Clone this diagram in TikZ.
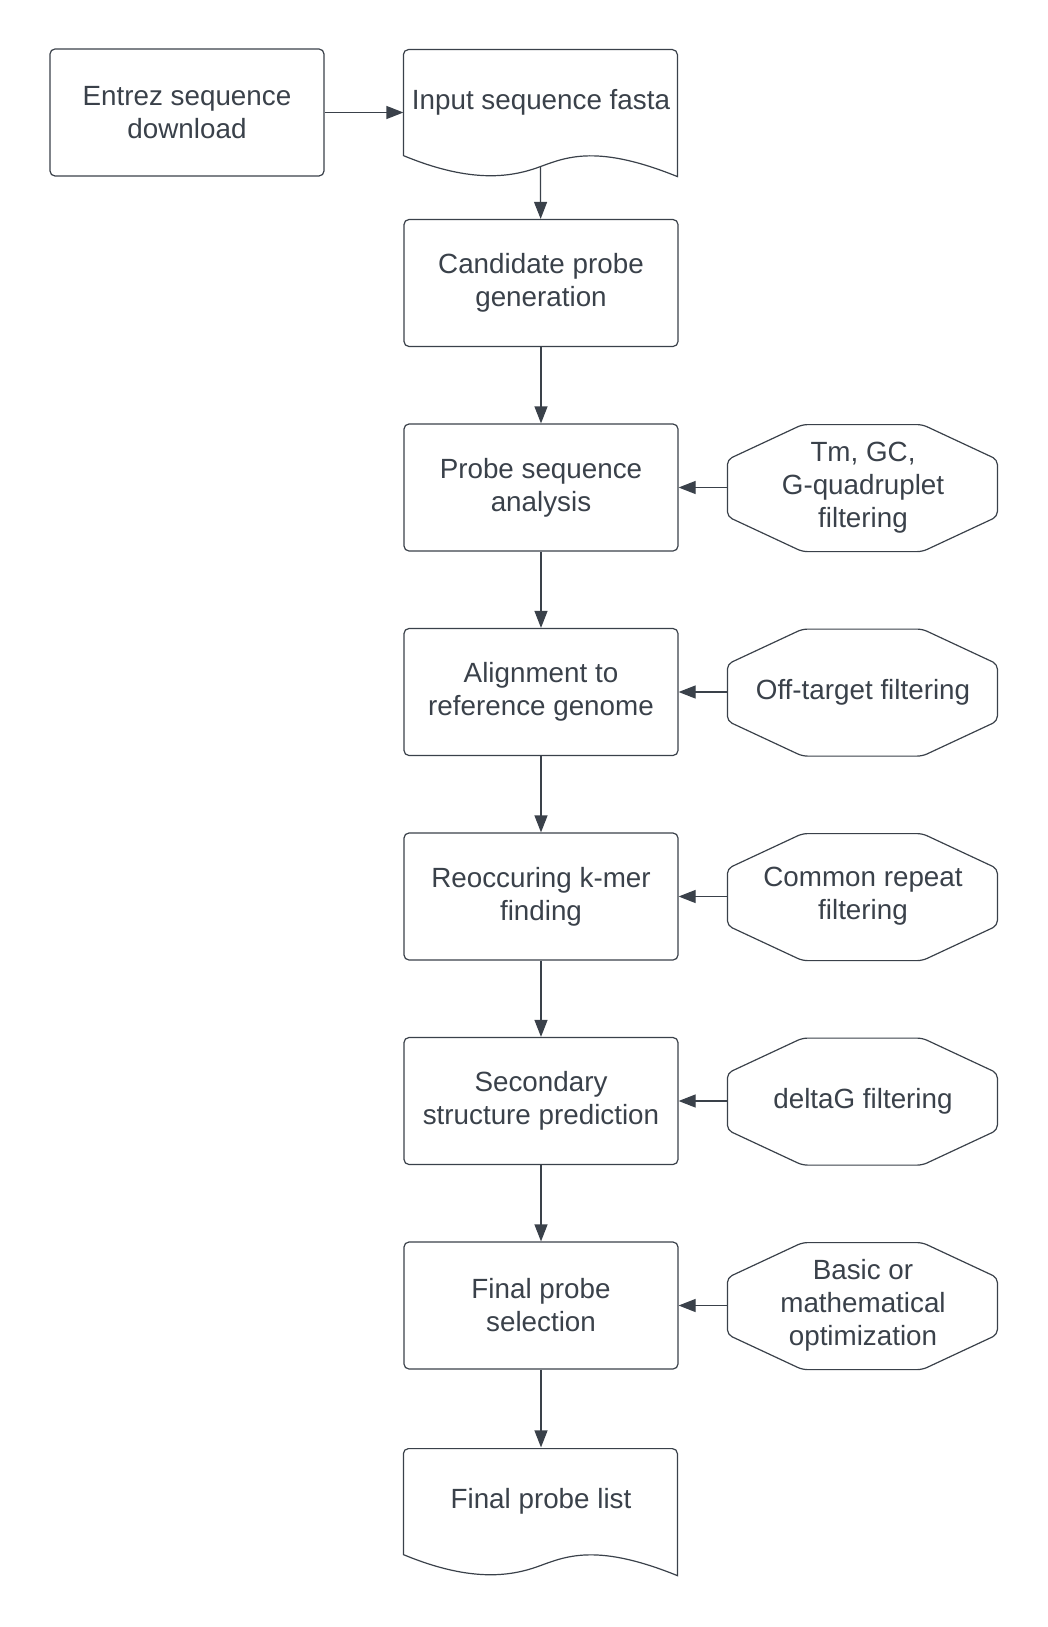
\documentclass[tikz,border=0pt]{standalone}
\usepackage{fontspec}
\setmainfont{Liberation Sans}
\usepackage{tikz}
\usetikzlibrary{arrows.meta}
\definecolor{linegray}{HTML}{3A414A}
\tikzstyle{process} = [rectangle, rounded corners=5pt, minimum
    width=274pt, minimum height=127pt, inner sep=2pt, text centered,
    align=center, draw=linegray, line width=1.2pt, text=linegray,
font=\fontsize{27.8}{33}\selectfont]
\tikzstyle{document} = [process, draw=none, minimum height=106pt]
\tikzstyle{filter} = [process, draw=none, minimum width=270pt]
\tikzstyle{outline} = [line width=1.2pt, draw=linegray]
\tikzstyle{arrow} = [outline, -{Triangle[length=17pt, width=13pt]}]
% wavy bottom of a document node
\newcommand{\docoutline}[1]{%
    \draw[outline, shift={(#1.south west)}] (0,0) [rounded corners=5pt]
    -- (0,106) -- (274,106) [sharp corners] -- (274,-21)
    .. controls (195,11) and (164,-1) .. (137,-11) coordinate (#1-wave)
    .. controls (110,-21) and (70,-29) .. (0,0) -- cycle;}
% cut corners of a filter node
\newcommand{\filteroutline}[1]{%
    \draw[outline, rounded corners=5pt, shift={(#1.south west)}]
    (75,0) -- (195,0) -- (270,35) -- (270,92) -- (195,127) -- (75,127)
    -- (0,92) -- (0,35) -- cycle;}

\begin{document}
\begin{tikzpicture}[x=1pt, y=1pt, node distance=204.5pt]
            \useasboundingbox (-187,112.5) rectangle (861,-1514.5);
            % Main column
            \node[process] (entrez) {Entrez sequence\\download};
            \node[document, right of=entrez, node distance=354pt,
            yshift=10.5pt] (fasta) {Input sequence fasta};
            \node[process, below of=fasta, node distance=181pt] (cand)
            {Candidate probe\\generation};
            \node[process, below of=cand] (seqan) {Probe sequence\\analysis};
            \node[process, below of=seqan] (align) {Alignment to\\reference genome};
            \node[process, below of=align] (kmer) {Reoccuring k-mer\\finding};
            \node[process, below of=kmer] (struct) {Secondary\\structure prediction};
            \node[process, below of=struct] (select) {Final probe\\selection};
            \node[document, below of=select, node distance=195.5pt] (list)
            {Final probe list};
            \docoutline{fasta}
            \docoutline{list}
            % Filters
            \node[filter, right of=seqan, node distance=322pt] (tmgc)
            {Tm, GC,\\G-quadruplet\\filtering};
            \node[filter, right of=align, node distance=322pt] (offt)
            {Off-target filtering};
            \node[filter, right of=kmer, node distance=322pt] (repeat)
            {Common repeat\\filtering};
            \node[filter, right of=struct, node distance=322pt] (deltag)
            {deltaG filtering};
            \node[filter, right of=select, node distance=322pt] (optim)
            {Basic or\\mathematical\\optimization};
            \foreach \f in {tmgc, offt, repeat, deltag, optim}
                \filteroutline{\f};
            % Arrows
            \draw[arrow] (entrez.east) -- (entrez.east -| fasta.west);
            \draw[arrow] (fasta-wave) -- (cand);
            \draw[arrow] (cand) -- (seqan);
            \draw[arrow] (seqan) -- (align);
            \draw[arrow] (align) -- (kmer);
            \draw[arrow] (kmer) -- (struct);
            \draw[arrow] (struct) -- (select);
            \draw[arrow] (select) -- (list);
            \draw[arrow] (tmgc) -- (seqan);
            \draw[arrow] (offt) -- (align);
            \draw[arrow] (repeat) -- (kmer);
            \draw[arrow] (deltag) -- (struct);
            \draw[arrow] (optim) -- (select);

        \end{tikzpicture}
\end{document}
